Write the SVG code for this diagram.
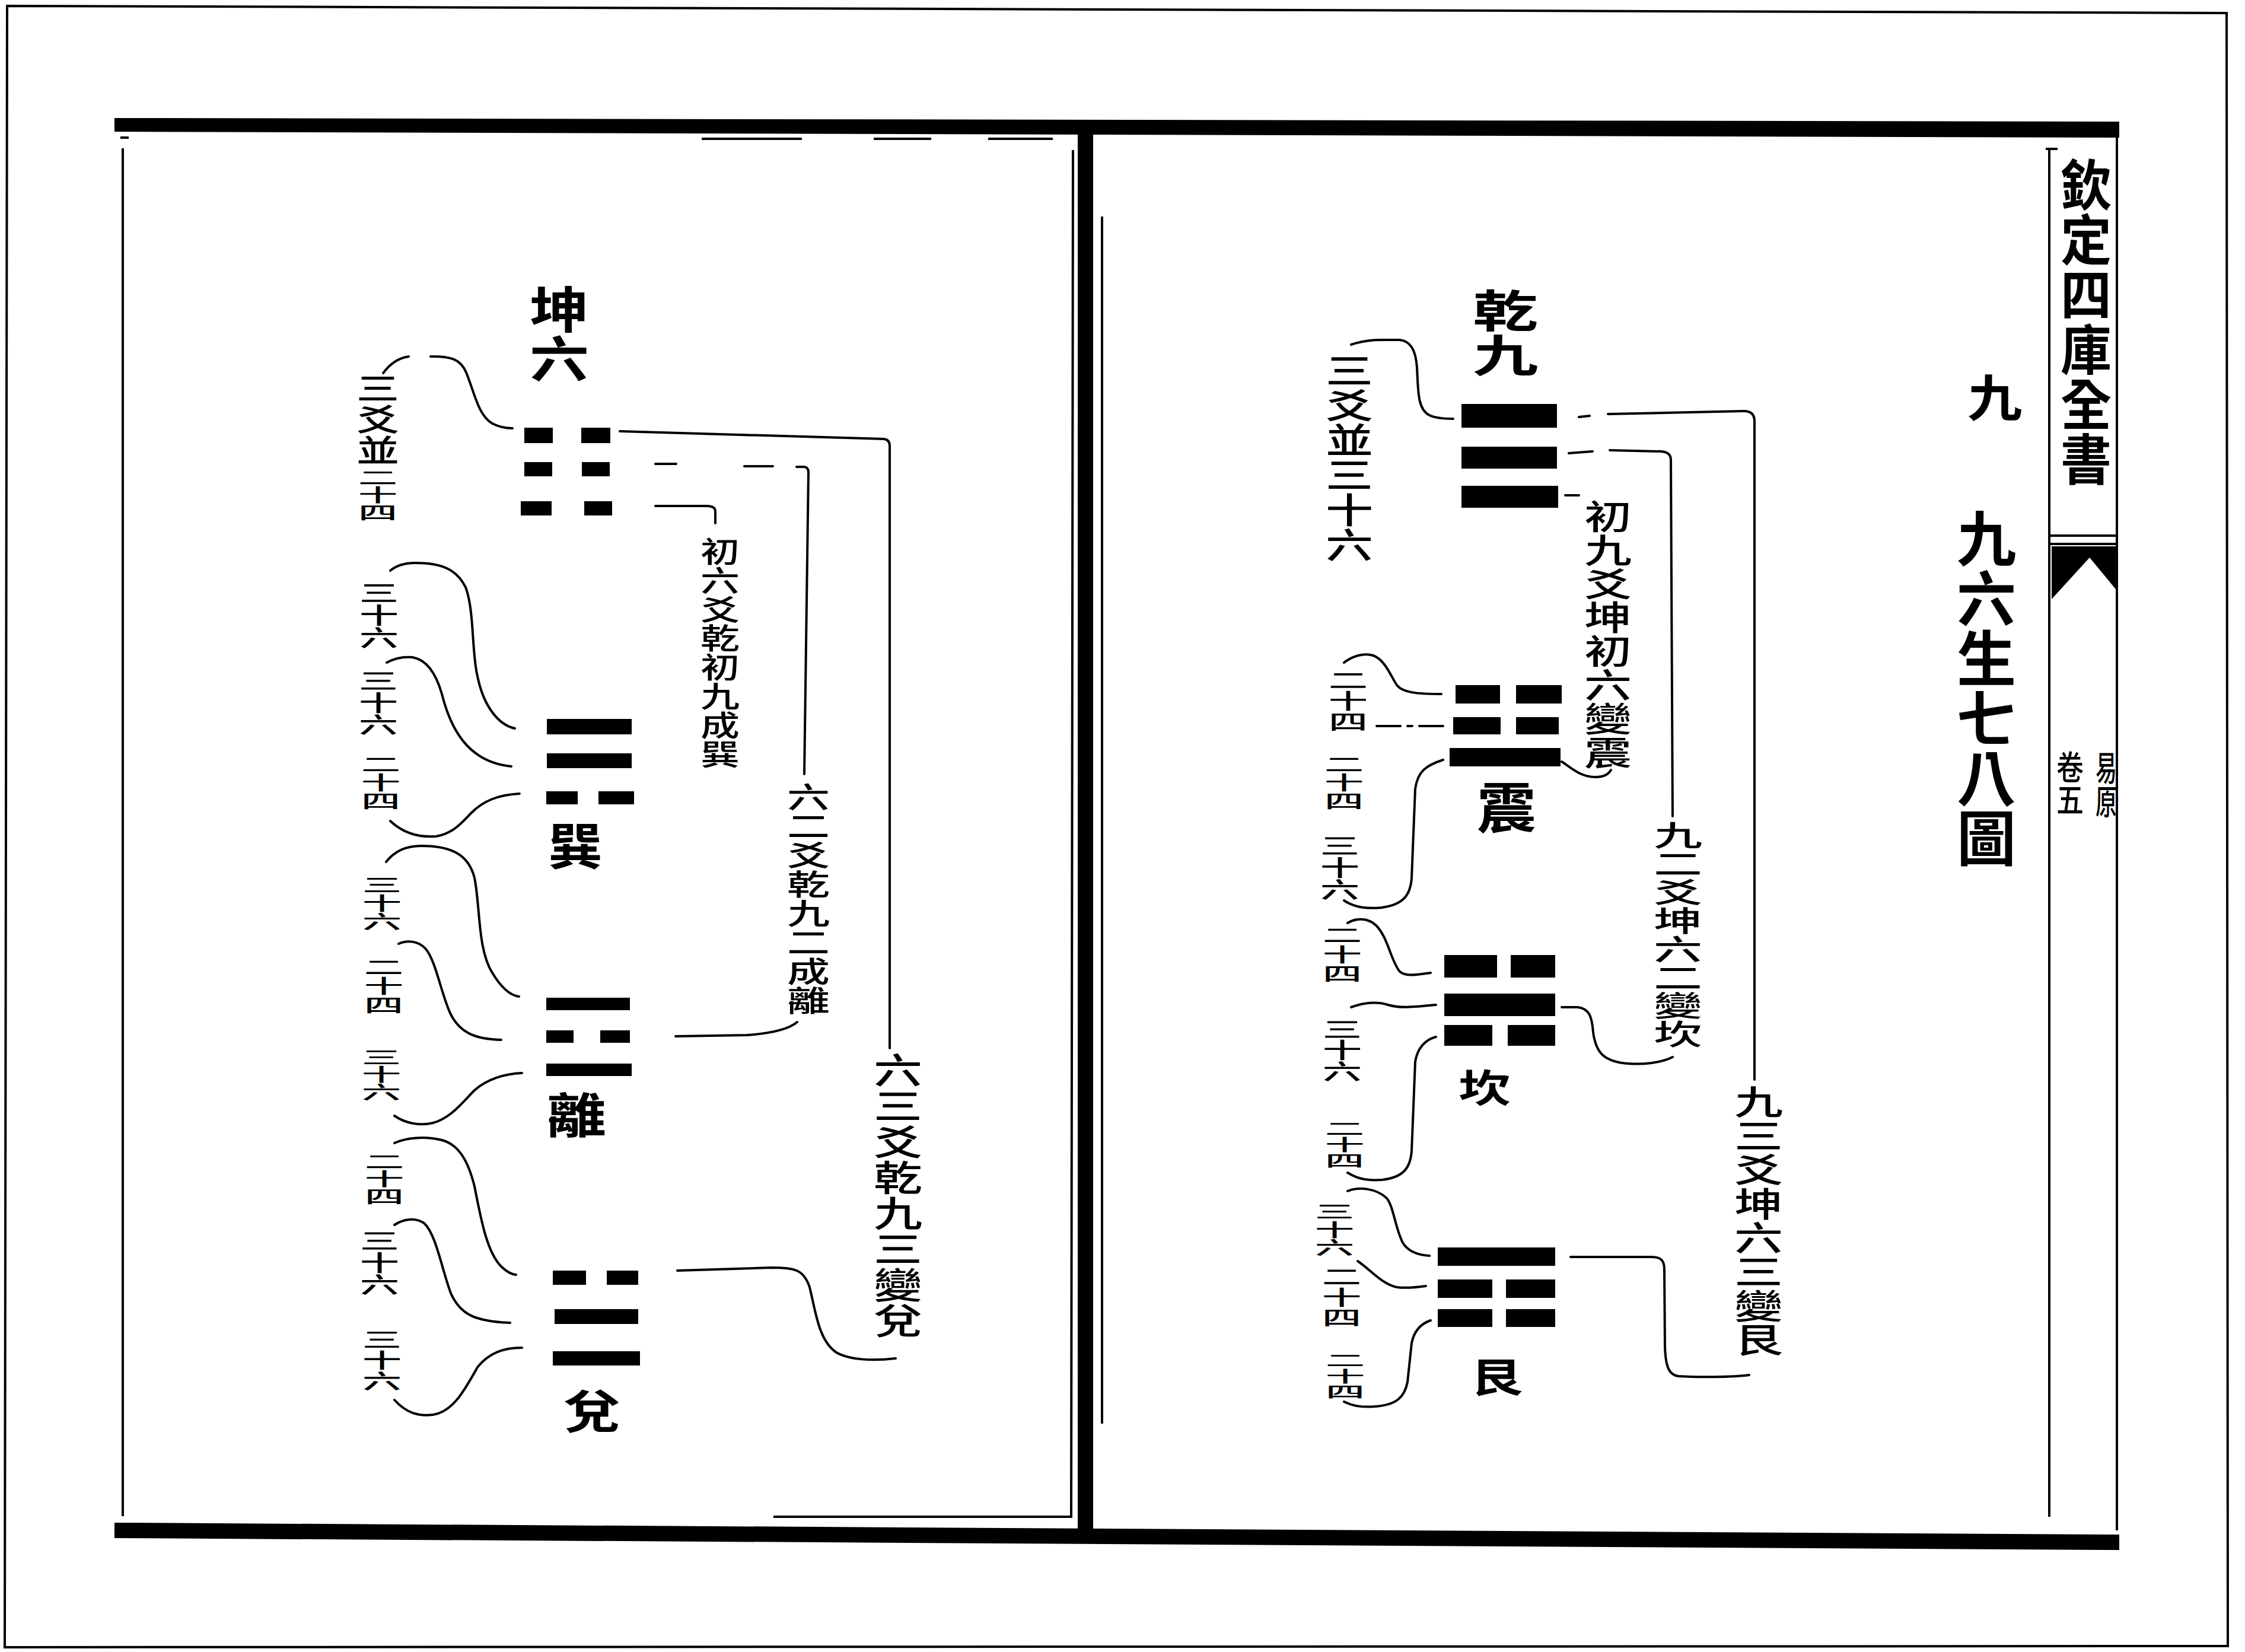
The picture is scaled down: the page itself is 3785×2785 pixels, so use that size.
<svg xmlns="http://www.w3.org/2000/svg" width="3785" height="2785" viewBox="0 0 3785 2785">
<style>
.v{font-family:"Noto Sans CJK TC","Noto Sans CJK SC",sans-serif;fill:#000;writing-mode:vertical-rl;text-orientation:upright;font-weight:500}
.h{font-weight:700}
.c{fill:none;stroke:#000;stroke-width:4;stroke-linecap:round;stroke-linejoin:round}
.f{fill:none;stroke:#000;stroke-width:4}
.b{fill:#000}
</style>
<rect width="3785" height="2785" fill="#fff"/>
<g id="page-frame">
<path class="f" d="M12,10 L3754,22 L3756,2775 L8,2777 Z" stroke-width="3"/>
<polygon class="b" points="193,199 3573,205 3573,232 193,222"/>
<polygon class="b" points="193,2567 3573,2587 3573,2613 193,2593"/>
<rect class="b" x="1817" y="222" width="26" height="2357"/>
<path class="f" d="M207,250 V2556"/>
<path class="f" d="M203,232 H217"/>
<path class="f" stroke-width="3" d="M1183,234 H1352 M1473,234 H1570 M1666,234 H1775"/>
<path class="f" d="M1809,253 L1806,2557 H1304"/>
<path class="f" d="M1858,365 V2400"/>
<path class="f" d="M3455,251 V2557"/>
<path class="f" d="M3449,251 H3469"/>
<path class="f" d="M3569,222 V2580"/>
<path class="f" d="M3456,903 H3571 M3456,917 H3571"/>
<polygon class="b" points="3459,921 3571,921 3571,998 3523,940 3459,1010"/>
</g>
<g id="title">
<text class="v h" font-size="86" transform="translate(3517,265) scale(1,1.075)">欽定四庫全書</text>
<text class="v h" font-size="92" transform="translate(3363,628) scale(1,0.91)">九</text>
<text class="v h" font-size="100" transform="translate(3349,857) scale(1,1.01)">九六生七八圖</text>
<text class="v" font-size="46" transform="translate(3490,1265) scale(1,1.2)">卷五</text>
<text class="v" font-size="36" transform="translate(3551,1265) scale(1,1.6)">易原</text>
</g>
<g id="kun">
<text class="v h" font-size="100" transform="translate(943,480) scale(1,0.83)">坤六</text>
<rect class="b" x="884" y="721" width="48" height="26"/><rect class="b" x="980" y="721" width="49" height="26"/>
<rect class="b" x="884" y="779" width="47" height="24"/><rect class="b" x="981" y="779" width="47" height="24"/>
<rect class="b" x="878" y="845" width="52" height="24"/><rect class="b" x="985" y="845" width="47" height="24"/>
<text class="v" font-size="72" transform="translate(637,628) scale(1,0.73)">三爻並</text>
<text class="v" font-size="66" transform="translate(637,790) scale(1,0.445)">二十四</text>
</g>
<g id="xun">
<rect class="b" x="922" y="1212" width="143" height="26"/>
<rect class="b" x="922" y="1270" width="143" height="25"/>
<rect class="b" x="921" y="1334" width="53" height="22"/><rect class="b" x="1009" y="1334" width="60" height="22"/>
<text class="v h" font-size="92" transform="translate(970,1384) scale(1,0.91)">巽</text>
<text class="v" font-size="66" transform="translate(639,980) scale(1,0.574)">三十六</text>
<text class="v" font-size="66" transform="translate(638,1129) scale(1,0.564)">三十六</text>
<text class="v" font-size="66" transform="translate(642,1272) scale(1,0.475)">二十四</text>
</g>
<g id="li">
<rect class="b" x="921" y="1682" width="141" height="21"/>
<rect class="b" x="921" y="1737" width="46" height="21"/><rect class="b" x="1012" y="1737" width="50" height="21"/>
<rect class="b" x="921" y="1793" width="144" height="21"/>
<text class="v h" font-size="100" transform="translate(972,1839) scale(1,0.81)">離</text>
<text class="v" font-size="66" transform="translate(644,1476) scale(1,0.47)">三十六</text>
<text class="v" font-size="66" transform="translate(647,1614) scale(1,0.485)">二十四</text>
<text class="v" font-size="66" transform="translate(643,1767) scale(1,0.446)">三十六</text>
</g>
<g id="dui">
<rect class="b" x="932" y="2142" width="56" height="24"/><rect class="b" x="1023" y="2142" width="53" height="24"/>
<rect class="b" x="935" y="2207" width="141" height="25"/>
<rect class="b" x="932" y="2278" width="147" height="24"/>
<text class="v h" font-size="95" transform="translate(998,2340) scale(1,0.81)">兌</text>
<text class="v" font-size="66" transform="translate(648,1943) scale(1,0.446)">二十四</text>
<text class="v" font-size="66" transform="translate(640,2073) scale(1,0.564)">三十六</text>
<text class="v" font-size="66" transform="translate(644,2241) scale(1,0.525)">三十六</text>
</g>
<g id="kun-notes">
<text class="v" font-size="66" transform="translate(1214,905) scale(1,0.74)">初六爻乾初九成巽</text>
<text class="v" font-size="72" transform="translate(1363,1319) scale(1,0.68)">六二爻乾九二成離</text>
<text class="v" font-size="82" transform="translate(1514,1774) scale(1,0.735)">六三爻乾九三變兌</text>
</g>
<g id="qian">
<text class="v h" font-size="110" transform="translate(2538,486) scale(1,0.68)">乾九</text>
<rect class="b" x="2464" y="681" width="161" height="40"/>
<rect class="b" x="2464" y="753" width="161" height="37"/>
<rect class="b" x="2464" y="819" width="163" height="37"/>
<text class="v" font-size="80" transform="translate(2275,595) scale(1,0.735)">三爻並三十六</text>
</g>
<g id="zhen">
<rect class="b" x="2454" y="1155" width="75" height="31"/><rect class="b" x="2556" y="1155" width="77" height="31"/>
<rect class="b" x="2450" y="1209" width="80" height="29"/><rect class="b" x="2556" y="1209" width="72" height="29"/>
<rect class="b" x="2444" y="1261" width="187" height="31"/>
<text class="v h" font-size="100" transform="translate(2540,1315) scale(1,0.92)">震</text>
<text class="v" font-size="66" transform="translate(2273,1129) scale(1,0.534)">二十四</text>
<text class="v" font-size="66" transform="translate(2266,1272) scale(1,0.475)">二十四</text>
<text class="v" font-size="66" transform="translate(2259,1407) scale(1,0.564)">三十六</text>
</g>
<g id="kan">
<rect class="b" x="2435" y="1610" width="89" height="38"/><rect class="b" x="2547" y="1610" width="75" height="38"/>
<rect class="b" x="2435" y="1675" width="187" height="38"/>
<rect class="b" x="2435" y="1728" width="81" height="35"/><rect class="b" x="2542" y="1728" width="80" height="35"/>
<text class="v h" font-size="88" transform="translate(2503,1801) scale(1,0.74)">坎</text>
<text class="v" font-size="66" transform="translate(2263,1560) scale(1,0.49)">二十四</text>
<text class="v" font-size="66" transform="translate(2263,1717) scale(1,0.544)">三十六</text>
<text class="v" font-size="66" transform="translate(2267,1889) scale(1,0.41)">二十四</text>
</g>
<g id="gen">
<rect class="b" x="2424" y="2103" width="198" height="31"/>
<rect class="b" x="2424" y="2157" width="92" height="31"/><rect class="b" x="2539" y="2157" width="83" height="31"/>
<rect class="b" x="2424" y="2207" width="92" height="30"/><rect class="b" x="2539" y="2207" width="83" height="30"/>
<text class="v h" font-size="88" transform="translate(2523,2287) scale(1,0.78)">艮</text>
<text class="v" font-size="66" transform="translate(2250,2027) scale(1,0.456)">三十六</text>
<text class="v" font-size="66" transform="translate(2262,2135) scale(1,0.52)">二十四</text>
<text class="v" font-size="66" transform="translate(2268,2280) scale(1,0.40)">二十四</text>
</g>
<g id="qian-notes">
<text class="v" font-size="80" transform="translate(2711,842) scale(1,0.71)">初九爻坤初六變震</text>
<text class="v" font-size="82" transform="translate(2829,1384) scale(1,0.584)">九二爻坤六二變坎</text>
<text class="v" font-size="82" transform="translate(2965,1828) scale(1,0.70)">九三爻坤六三變艮</text>
</g>
<g id="connectors">
<path class="c" d="M646,629 C660,610 675,603 689,601 M726,601 C760,600 777,606 786,628 C800,662 806,700 830,714 C842,720 852,722 864,722"/>
<path class="c" d="M658,962 C670,952 685,949 700,949 C745,949 770,960 785,990 C800,1030 795,1100 805,1140 C815,1190 840,1222 868,1228"/>
<path class="c" d="M652,1117 C665,1110 680,1107 695,1108 C720,1112 735,1135 745,1170 C760,1230 790,1285 862,1292"/>
<path class="c" d="M658,1384 C680,1405 705,1412 735,1410 C765,1405 780,1385 795,1370 C815,1350 840,1340 876,1338"/>
<path class="c" d="M651,1453 C665,1435 685,1426 710,1426 C760,1426 790,1440 800,1480 C810,1530 805,1600 830,1640 C845,1665 860,1678 875,1680"/>
<path class="c" d="M672,1591 C685,1585 705,1585 718,1600 C735,1620 745,1680 760,1710 C775,1740 800,1752 845,1753"/>
<path class="c" d="M665,1881 C685,1895 710,1898 730,1893 C760,1885 780,1858 800,1838 C820,1820 850,1810 880,1809"/>
<path class="c" d="M665,1927 C685,1918 715,1915 745,1922 C775,1930 790,1960 800,2000 C810,2050 820,2110 845,2135 C852,2142 860,2148 870,2149"/>
<path class="c" d="M665,2065 C680,2055 700,2052 715,2062 C735,2080 745,2140 760,2180 C775,2215 800,2228 860,2230"/>
<path class="c" d="M665,2360 C685,2382 705,2388 730,2385 C765,2380 785,2340 805,2305 C825,2280 850,2272 880,2272"/>
<path class="c" d="M1045,727 L1490,740 Q1500,741 1500,752 L1500,1767"/>
<path class="c" d="M1105,782 H1140 M1255,786 H1303 M1343,787 H1356 Q1363,788 1363,796 L1356,1305"/>
<path class="c" d="M1105,853 H1191 Q1206,853 1206,862 V882"/>
<path class="c" d="M1344,1723 C1330,1735 1300,1742 1260,1745 L1139,1747"/>
<path class="c" d="M1142,2142 L1300,2137 C1340,2137 1355,2140 1365,2170 C1375,2210 1380,2260 1410,2280 C1430,2292 1470,2295 1510,2290"/>
<path class="c" d="M2278,581 C2295,575 2310,573 2330,573 L2360,573 C2378,575 2387,590 2389,620 C2391,660 2390,690 2410,700 C2420,705 2435,706 2450,706"/>
<path class="c" d="M2662,703 L2680,701 M2711,698 L2940,693 Q2958,693 2958,710 L2958,1820"/>
<path class="c" d="M2645,764 L2685,761 M2714,759 L2800,761 Q2817,762 2817,775 L2820,1376"/>
<path class="c" d="M2639,835 H2662"/>
<path class="c" d="M2633,1284 C2650,1295 2665,1310 2690,1310 C2705,1310 2712,1305 2716,1298"/>
<path class="c" d="M2820,1782 C2800,1792 2770,1795 2745,1793 C2700,1790 2690,1770 2686,1740 C2684,1715 2680,1700 2660,1698 L2633,1698"/>
<path class="c" d="M2949,2318 C2920,2322 2860,2322 2830,2320 C2812,2318 2808,2300 2807,2270 L2806,2140 C2806,2125 2800,2119 2785,2119 L2648,2119"/>
<path class="c" d="M2266,1117 C2280,1106 2300,1100 2315,1105 C2335,1112 2345,1140 2355,1155 C2365,1168 2390,1170 2430,1170"/>
<path class="c" d="M2321,1224 L2444,1224" stroke-dasharray="40 12 8 12"/>
<path class="c" d="M2433,1281 C2405,1290 2390,1300 2386,1330 L2380,1480 C2378,1510 2365,1525 2330,1530 C2300,1533 2280,1528 2266,1518"/>
<path class="c" d="M2272,1556 C2285,1548 2305,1546 2320,1560 C2340,1580 2345,1620 2360,1638 C2372,1648 2395,1642 2412,1640"/>
<path class="c" d="M2278,1698 C2300,1690 2320,1688 2340,1694 C2360,1700 2380,1698 2421,1694"/>
<path class="c" d="M2421,1748 C2405,1752 2390,1765 2386,1790 L2380,1940 C2378,1970 2365,1985 2330,1989 C2300,1991 2285,1985 2272,1977"/>
<path class="c" d="M2272,2008 C2290,2000 2320,2003 2338,2020 C2350,2035 2352,2070 2365,2095 C2375,2112 2395,2116 2410,2117"/>
<path class="c" d="M2289,2126 C2310,2140 2330,2165 2355,2170 C2370,2172 2390,2170 2404,2168"/>
<path class="c" d="M2412,2226 C2400,2230 2385,2240 2380,2264 L2373,2330 C2368,2355 2355,2368 2320,2371 C2295,2373 2280,2370 2266,2363"/>
</g>
</svg>
